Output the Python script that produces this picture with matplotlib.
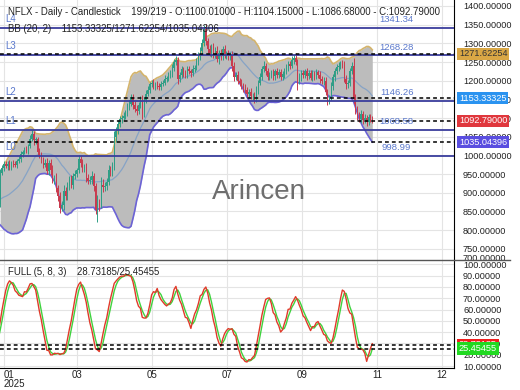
import numpy as np
import pandas as pd
import matplotlib
matplotlib.use("Agg")
import matplotlib.pyplot as plt
import matplotlib.transforms as mtransforms
from matplotlib.lines import Line2D

plt.rcParams["font.family"] = ["Liberation Sans", "DejaVu Sans"]

# ---- daily closes (20 hidden warm-up bars feed BB / stochastic) ----
warmup_close = [909, 915, 932, 924, 907, 900, 891, 886, 897, 880,
                870, 875, 828, 838, 833, 851, 836, 858, 869, 953]
close_jan = [965, 977, 971, 978, 968, 980, 977]
close_feb = [975, 985, 990, 1005, 1010, 1015, 1012, 1025, 1045, 1058,
             1040, 1043, 1010, 1000, 990, 975, 980, 958, 980]
close_mar = [962, 935, 938, 912, 891, 858, 866, 905, 890, 918,
             936, 920, 945, 950, 960, 990, 980, 965, 970, 940, 932]
close_apr = [935, 945, 918, 855, 870, 868, 921, 915, 918, 930,
             962, 955, 975, 1048, 1065, 1085, 1097, 1101, 1105, 1115, 1130]
close_may = [1138, 1156, 1135, 1125, 1120, 1135, 1150, 1112, 1148, 1165,
             1175, 1190, 1195, 1185, 1190, 1185, 1183, 1192, 1195, 1205, 1207]
close_jun = [1215, 1220, 1235, 1250, 1255, 1205, 1215, 1230, 1220, 1215,
             1230, 1225, 1220, 1232, 1235, 1250, 1265, 1280, 1300, 1339]
close_jul = [1305, 1285, 1275, 1290, 1270, 1280, 1258, 1275, 1265, 1285,
             1270, 1272, 1265, 1268, 1240, 1210, 1215, 1200, 1195, 1185, 1180, 1175]
close_aug = [1165, 1170, 1158, 1160, 1150, 1175, 1195, 1210, 1230, 1240,
             1225, 1210, 1215, 1220, 1212, 1225, 1215, 1222, 1210, 1218, 1225]
close_sep = [1235, 1245, 1240, 1255, 1262, 1250, 1200, 1210, 1220, 1215,
             1225, 1212, 1220, 1208, 1218, 1212, 1222, 1215, 1205, 1198, 1200]
close_oct = [1170, 1148, 1155, 1185, 1210, 1225, 1236, 1240, 1246, 1242,
             1205, 1190, 1195, 1225, 1240, 1150, 1120, 1105, 1098, 1110,
             1095, 1100, 1090]
close_tail = [1103, 1100.01, 1092.79]

# wick lengths above / below the candle body
up_wick = [8, 6, 5, 9, 7, 6, 8, 10, 7, 9, 6, 12, 8, 7, 9, 10, 8, 6, 12, 10,
           9, 7, 8, 6, 10, 5, 7,
           8, 6, 9, 7, 5, 8, 10, 6, 9, 11, 8, 6, 7, 9, 8, 6, 10, 12, 7,
           10, 12, 9, 14, 8, 11, 13, 15, 10, 12, 9, 11, 8, 10, 7, 12, 9, 11, 8, 10, 9,
           10, 12, 9, 8, 25, 14, 20, 16, 12, 10, 11, 9, 8, 18, 12, 10, 9, 8, 10, 7, 9,
           10, 9, 8, 11, 9, 7, 10, 12, 8, 9, 10, 7, 8, 9, 6, 8, 9, 7, 8, 10, 6,
           8, 9, 10, 7, 12, 9, 8, 10, 7, 9, 8, 10, 7, 9, 8, 10, 12, 9, 11, 10,
           12, 9, 10, 8, 11, 9, 12, 8, 10, 9, 11, 8, 9, 10, 12, 9, 8, 10, 7, 9, 8, 10,
           9, 8, 10, 7, 9, 11, 8, 10, 9, 12, 8, 10, 9, 8, 10, 7, 9, 8, 10, 9, 8,
           10, 8, 9, 11, 8, 12, 9, 10, 8, 9, 7, 10, 8, 9, 10, 8, 9, 7, 10, 8, 9,
           10, 9, 8, 11, 9, 8, 10, 9, 8, 10, 12, 9, 8, 10, 9, 20, 15, 12, 10, 11, 9, 10, 8,
           8, 9, 4.14]
down_wick = [6, 9, 7, 5, 8, 10, 6, 7, 9, 8, 10, 6, 9, 11, 7, 8, 6, 9, 14, 8,
             6, 8, 5, 9, 6, 8, 7,
             7, 9, 6, 8, 10, 7, 6, 8, 5, 7, 12, 9, 10, 8, 11, 9, 7, 8, 10,
             14, 10, 12, 9, 13, 11, 8, 12, 10, 9, 11, 8, 10, 7, 9, 8, 11, 9, 10, 12, 8,
             9, 11, 14, 12, 34, 18, 10, 13, 9, 11, 8, 10, 9, 14, 12, 8, 10, 9, 7, 8, 10,
             8, 7, 10, 9, 12, 8, 7, 14, 9, 8, 7, 9, 6, 8, 10, 7, 8, 9, 6, 7, 9,
             7, 8, 9, 10, 8, 14, 9, 7, 10, 8, 9, 7, 10, 8, 9, 7, 8, 10, 9, 8,
             10, 12, 8, 11, 9, 10, 8, 12, 9, 10, 8, 11, 9, 10, 14, 11, 9, 8, 10, 7, 9, 8,
             8, 10, 7, 9, 11, 8, 10, 7, 9, 8, 10, 9, 7, 8, 9, 10, 8, 9, 7, 8, 10,
             8, 9, 10, 7, 9, 8, 25, 9, 10, 8, 9, 10, 8, 7, 9, 10, 8, 9, 10, 8, 9,
             9, 12, 10, 8, 9, 10, 8, 9, 10, 8, 9, 11, 10, 9, 8, 12, 10, 9, 8, 10, 12, 9, 10,
             9, 10, 6.11]

level_names = ["L0", "L1", "L2", "L3", "L4"]
level_values = [998.99, 1068.58, 1146.26, 1268.28, 1341.34]

bb_mid_last, bb_up_last, bb_low_last = 1153.33325, 1271.62254, 1035.04396
last_close = 1092.79
stoch_k_last, stoch_d_last = 28.73185, 25.45455

month_ticks = [1.07, 40.1, 80.2, 120.3, 160.4, 200.5, 235.3]
month_labels = ["01\n2025", "03", "05", "07", "09", "11", "12"]

price_ticks = list(range(750, 1401, 50))
stoch_ticks = list(range(10, 101, 10))

header = ("NFLX - Daily - Candlestick    199/219 - O:1100.01000 - H:1104.15000"
          " - L:1086.68000 - C:1092.79000")
bb_header = "BB (20, 2)    1153.33325/1271.62254/1035.04306"
stoch_header = "FULL (5, 8, 3)    28.73185/25.45455"

# ---- build OHLC + indicators ----
closes = np.array(warmup_close + close_jan + close_feb + close_mar + close_apr
                  + close_may + close_jun + close_jul + close_aug + close_sep
                  + close_oct + close_tail, dtype=float)
opens = np.r_[closes[0], closes[:-1]]
highs = np.maximum(opens, closes) + np.array(up_wick)
lows = np.minimum(opens, closes) - np.array(down_wick)
xs = np.arange(len(closes)) - len(warmup_close)

df = pd.DataFrame({"open": opens, "high": highs, "low": lows, "close": closes}, index=xs)
mid = df["close"].rolling(20).mean()
sd = df["close"].rolling(20).std(ddof=0)
upper, lower = mid + 2 * sd, mid - 2 * sd

ll = df["low"].rolling(5).min()
hh = df["high"].rolling(5).max()
fast_k = 100 * (df["close"] - ll) / (hh - ll)
k_line = fast_k.rolling(8).mean()
d_line = k_line.rolling(3).mean()

# ---- figure ----
W, H = 520, 390
fig = plt.figure(figsize=(W / 100, H / 100), dpi=100)
ax_p = fig.add_axes([0, 1 - 260 / H, 454 / W, 260 / H])
ax_s = fig.add_axes([0, 1 - 368 / H, 454 / W, 108 / H])

UP, DOWN = "#2f9e86", "#c93a4e"
LEVEL = "#3a3d9c"
LBL = "#5a78cc"
DASH = (0, (2.5, 2))

for ax in (ax_p, ax_s):
    ax.set_xlim(-1.07, 241.7)
    ax.set_xticks(month_ticks)
    ax.grid(True, color="#e4e4e4", lw=0.8)
    ax.set_axisbelow(True)
    ax.yaxis.tick_right()
    ax.tick_params(axis="y", length=0, pad=6.5, labelsize=6.6, colors="#222")
    for s in ("top", "left"):
        ax.spines[s].set_visible(False)
    ax.spines["right"].set_color("black")

# price panel
ax_p.set_ylim(720, 1416)
ax_p.set_yticks(price_ticks)
ax_p.set_yticklabels([f"{v:.5f}" for v in price_ticks])
ax_p.tick_params(axis="x", length=0, labelbottom=False)
ax_p.spines["bottom"].set_visible(False)

ax_p.fill_between(df.index, upper, lower, color="#bcbcbc", lw=0, zorder=1)
ax_p.plot(df.index, upper, color="#d4b46c", lw=1.2, zorder=2)
ax_p.plot(df.index, lower, color="#6c63d6", lw=1.2, zorder=2)
ax_p.plot(df.index, mid, color="#86a3c6", lw=0.9, zorder=2)

is_up = df["close"] >= df["open"]
colors = np.where(is_up, UP, DOWN)
ax_p.vlines(df.index, df["low"], df["high"], colors=colors, lw=0.7, zorder=3)
body_lo = np.minimum(df["open"], df["close"])
body_h = np.maximum(np.abs(df["close"] - df["open"]), 1.0)
ax_p.bar(df.index, body_h, bottom=body_lo, width=0.65, color=colors, lw=0, zorder=3)

for v in level_values:
    ax_p.axhline(v, color=LEVEL, lw=1.3, zorder=4)
for v in (bb_up_last, bb_mid_last, last_close, bb_low_last):
    ax_p.axhline(v, color="black", lw=1.1, ls=DASH, zorder=4)

ytrans_p = mtransforms.blended_transform_factory(ax_p.transAxes, ax_p.transData)
for name, v in zip(level_names, level_values):
    ax_p.annotate(name, xy=(0, v), xycoords=ytrans_p, xytext=(3.5, 3),
                  textcoords="offset points", va="bottom", ha="left",
                  fontsize=7, color=LBL, zorder=5)
    ax_p.annotate(f"{v:.2f}", xy=(211, v), xytext=(0, 2.5), textcoords="offset points",
                  va="bottom", ha="center", fontsize=6.8, color=LBL, zorder=5)

ax_p.text(0.57, 0.262, "Arincen", transform=ax_p.transAxes, fontsize=20,
          color="#6e6e6e", ha="center", va="center", zorder=6)


def value_box(ax, y, text, fc, tc="white"):
    tr = mtransforms.blended_transform_factory(ax.transAxes, ax.transData)
    ax.annotate(text, xy=(1.0, y), xycoords=tr, xytext=(3.5, 0),
                textcoords="offset points", ha="left", va="center",
                fontsize=6.6, color=tc, annotation_clip=False, zorder=7,
                bbox=dict(boxstyle="square,pad=0.18", fc=fc, ec="none"))


ax_p.annotate("700.00000", xy=(1.0, 0), xycoords="axes fraction", xytext=(6.5, -2),
              textcoords="offset points", ha="left", va="bottom", fontsize=6.6,
              color="#222", annotation_clip=False)
value_box(ax_p, bb_up_last, f"{bb_up_last:.5f}", "#d9a745", "#333333")
value_box(ax_p, bb_mid_last, f"{bb_mid_last:.5f}", "#2a93f0")
value_box(ax_p, last_close, f"{last_close:.5f}", "#e0373d")
value_box(ax_p, bb_low_last, f"{bb_low_last:.5f}", "#5a4ee0")

# stochastic panel
ax_s.set_ylim(8.3, 103.9)
ax_s.set_yticks(stoch_ticks)
ax_s.set_yticklabels([f"{v:.5f}" for v in stoch_ticks])
ax_s.set_xticklabels(month_labels)
first = ax_s.get_xticklabels()[0]
first.set_horizontalalignment("left")
first.set_linespacing(0.9)
ax_s.tick_params(axis="x", length=0, pad=1.5, labelsize=7, colors="#222")
ax_s.spines["bottom"].set_color("black")

ax_s.plot(df.index, d_line, color="#3fd33f", lw=1.0, zorder=3)
ax_s.plot(df.index, k_line, color="#e03a2a", lw=1.0, zorder=3)
for v in (stoch_k_last, stoch_d_last):
    ax_s.axhline(v, color="black", lw=1.1, ls=DASH, zorder=4)
value_box(ax_s, stoch_k_last, f"{stoch_k_last:.5f}", "#f01e1e")
value_box(ax_s, stoch_d_last, f"{stoch_d_last:.5f}", "#22d922")

# panel separator + headers
fig.add_artist(Line2D([0, 510 / W], [1 - 260 / H] * 2, transform=fig.transFigure,
                      color="#555555", lw=1))
fig.text(8 / W, 1 - 12 / H, header, fontsize=6.9, color="#222", va="center")
fig.text(8 / W, 1 - 29.5 / H, bb_header, fontsize=6.9, color="#222", va="center")
fig.text(8 / W, 1 - 272 / H, stoch_header, fontsize=6.9, color="#222", va="center")

fig.savefig("out.png", dpi=100)
